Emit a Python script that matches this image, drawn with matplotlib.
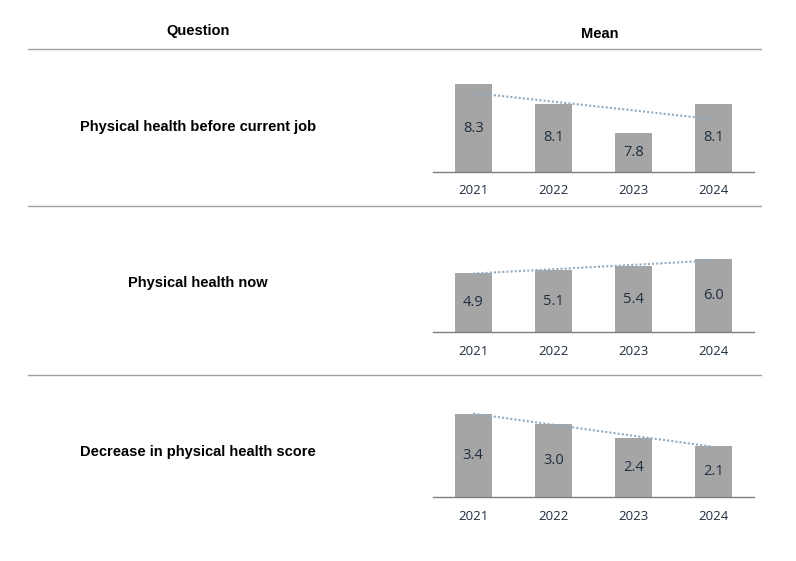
import numpy as np
import matplotlib
matplotlib.use('Agg')
import matplotlib.pyplot as plt

# data
questions = ['Physical health before current job',
             'Physical health now',
             'Decrease in physical health score']
years = ['2021', '2022', '2023', '2024']
before_job = [8.3, 8.1, 7.8, 8.1]
health_now = [4.9, 5.1, 5.4, 6.0]
decrease = [3.4, 3.0, 2.4, 2.1]
series = [before_job, health_now, decrease]

W, H = 796, 561
fig = plt.figure(figsize=(W / 100, H / 100), dpi=100)

def px(x0, ytop, w, h):
    # pixel box (top-left origin) -> figure fraction
    return [x0 / W, 1 - (ytop + h) / H, w / W, h / H]

hdr = dict(family='Liberation Sans', weight='bold', fontsize=10.5, color='black')
fig.text(198 / W, 1 - 31.5 / H, 'Question', ha='center', va='center', **hdr)
fig.text(600 / W, 1 - 33.5 / H, 'Mean', ha='center', va='center', **hdr)

# separator lines
for yl in [49, 205.5, 374.5]:
    fig.add_artist(plt.Line2D([28 / W, 761 / W], [1 - yl / H, 1 - yl / H],
                              color='#a0a0a0', lw=1.0))

# chart geometry: baseline pixel, pixels per unit, axis minimum
baselines = [172, 332.3, 497.3]
pxunit = [97.7, 12.2, 24.6]
ymins = [7.4, 0, 0]
label_y = [127.5, 283, 452]
ax_h = 110

bar_col = '#a5a5a5'
txt_col = '#1f2d3d'
trend_col = '#93abbf'

for i, vals in enumerate(series):
    fig.text(198 / W, 1 - label_y[i] / H, questions[i], ha='center', va='center',
             family='Liberation Sans', weight='bold', fontsize=10.5, color='black')

    ax = fig.add_axes(px(433, baselines[i] - ax_h, 321, ax_h))
    x = np.arange(len(years))
    ax.bar(x, vals, width=0.46, color=bar_col, zorder=2)
    ax.set_xlim(-0.5, len(years) - 0.5)
    ax.set_ylim(ymins[i], ymins[i] + ax_h / pxunit[i])

    # linear trend line
    k, b = np.polyfit(x, vals, 1)
    ax.plot(x, k * x + b, linestyle=(0, (1, 1)), color=trend_col, lw=1.5, zorder=3)

    for xi, v in zip(x, vals):
        ax.text(xi, (v + ymins[i]) / 2, '%.1f' % v, ha='center', va='center',
                fontsize=10.5, color=txt_col, family='Open Sans', zorder=4)

    ax.set_xticks(x)
    ax.set_xticklabels(years, family='Open Sans', fontsize=9.5, color=txt_col)
    ax.tick_params(axis='x', length=0, pad=9)
    ax.set_yticks([])
    for s in ['top', 'left', 'right']:
        ax.spines[s].set_visible(False)
    ax.spines['bottom'].set_color('#7f7f7f')
    ax.spines['bottom'].set_linewidth(1.0)
    ax.patch.set_alpha(0)

fig.savefig('out.png', dpi=100)
